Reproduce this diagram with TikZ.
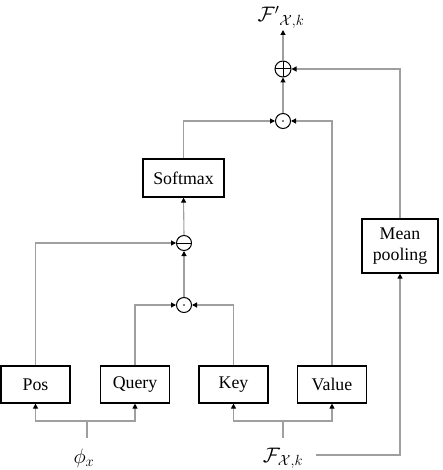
\RequirePackage{fix-cm}
\documentclass[tikz,border=0pt]{standalone}
\usepackage{amsmath}
\usepackage{fontspec}
\setmainfont{Liberation Serif}
\usetikzlibrary{arrows.meta}

\begin{document}
\begin{tikzpicture}[x=1pt, y=-1pt,
   font=\fontsize{17.8}{20.5}\selectfont,
   box/.style={draw, line width=1.2pt, minimum width=69pt, minimum height=37pt, inner sep=0pt},
   op/.style={draw, circle, line width=1pt, minimum size=15pt, inner sep=0pt},
   lbl/.style={font=\fontsize{21}{23}\selectfont, inner sep=0pt},
   wire/.style={draw=gray!75, line width=1.1pt, -{Triangle[length=5pt,width=5pt,color=black]}}]
   \useasboundingbox (0,0) rectangle (443,470);
   % inputs
   \node[box] (pos) at (35.5,384.5) {Pos};
   \node[box] (query) at (135,384.5) {Query};
   \node[box] (key) at (233.5,384.5) {Key};
   \node[box] (value) at (332,384.5) {Value};
   \node[lbl] (phi) at (84,458) {$\phi_x$};
   \node[lbl] (feat) at (283,458) {$\mathcal{F}_{\mathcal{X},k}$};
   \coordinate (phisplit) at (87,421);
   \coordinate (phiend) at (87,438);
   \coordinate (featsplit) at (283,421);
   \coordinate (featend) at (283,438);
   % operators
   \node[op, path picture={\fill (path picture bounding box.center) circle (0.9pt);}] (dotqk) at (184,305) {};
   \node[op, path picture={\draw[line width=1pt] (path picture bounding box.west) -- (path picture bounding box.east);}] (diff) at (184,243) {};
   \node[box, minimum width=81pt, minimum height=38pt] (softmax) at (183.5,178) {Softmax};
   \node[op, path picture={\fill (path picture bounding box.center) circle (0.9pt);}] (dotv) at (283,121) {};
   \node[op, minimum size=16pt, path picture={\draw[line width=1pt] (path picture bounding box.west) -- (path picture bounding box.east)
      (path picture bounding box.north) -- (path picture bounding box.south);}] (plus) at (283,69) {};
   \node[box, minimum width=76pt, minimum height=54pt, align=center] (mean) at (400,246) {Mean\\pooling};
   \coordinate (outtip) at (283,30);
   \node[lbl] (out) at (281,17) {${\mathcal{F}'}_{\mathcal{X},k}$};
   % connectors
   \draw[gray!75, line width=1.1pt] (phiend) -- (phisplit);
   \draw[wire] (phisplit) -| (pos.south);
   \draw[wire] (phisplit) -| (query.south);
   \draw[gray!75, line width=1.1pt] (featend) -- (featsplit);
   \draw[wire] (featsplit) -| (key.south);
   \draw[wire] (featsplit) -| (value.south);
   \draw[wire] ([xshift=13pt,yshift=3pt]feat.east) -| (mean.south);
   \draw[wire] (query.north) |- (dotqk.west);
   \draw[wire] (key.north) |- (dotqk.east);
   \draw[wire] (dotqk.north) -- (diff.south);
   \draw[wire] (pos.north) |- (diff.west);
   \draw[wire] (diff.north) -- (softmax.south);
   \draw[wire] (softmax.north) |- (dotv.west);
   \draw[wire] (value.north) |- (dotv.east);
   \draw[wire] (dotv.north) -- (plus.south);
   \draw[wire] (mean.north) |- (plus.east);
   \draw[wire] (plus.north) -- (outtip);
\end{tikzpicture}
\end{document}
